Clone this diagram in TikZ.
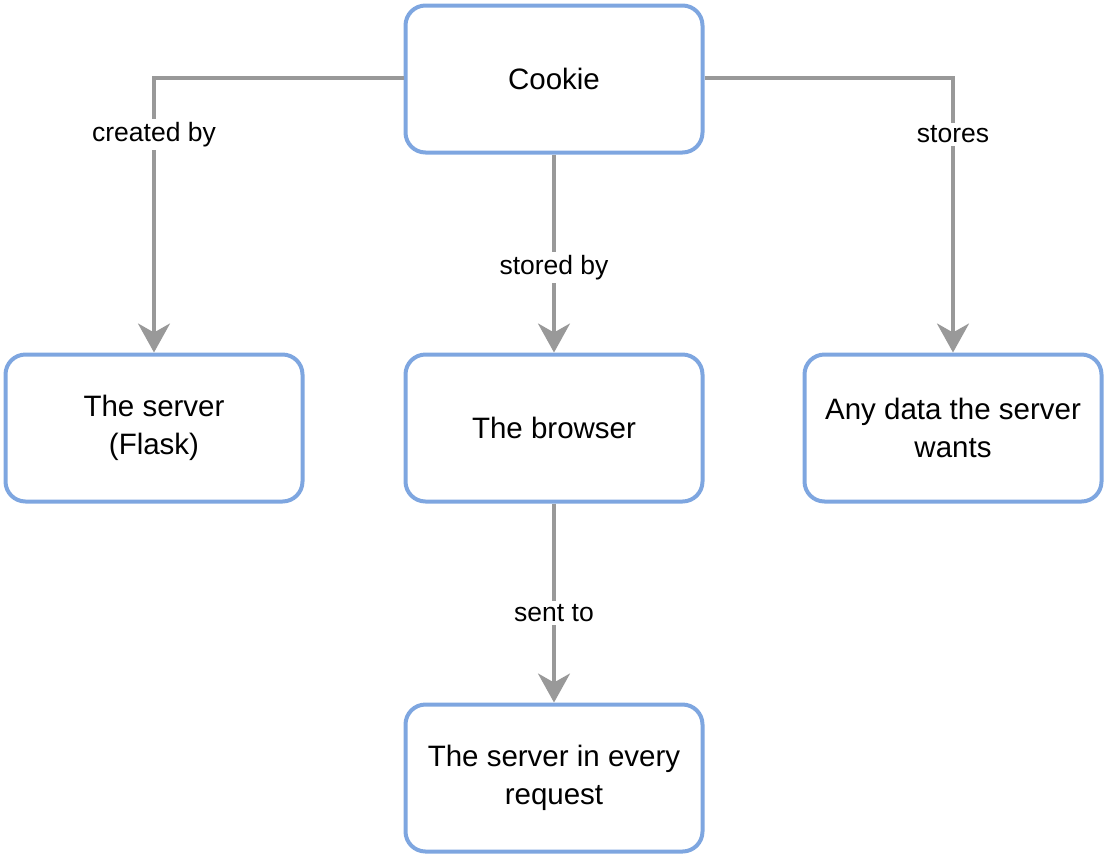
\documentclass[tikz,border=0pt]{standalone}
\usepackage{fontspec}
\setmainfont{Liberation Sans}
\usepackage{xcolor}
\usetikzlibrary{arrows.meta,positioning}
\definecolor{boxblue}{HTML}{7EA6E0}
\definecolor{arrgray}{HTML}{999999}

\begin{document}
\begin{tikzpicture}[x=1pt, y=-1pt,
        box/.style={draw=boxblue, line width=4pt, rounded corners=20pt,
            fill=white, minimum width=297pt, minimum height=147pt,
            align=center, font=\fontsize{29.5}{38}\selectfont},
        arr/.style={draw=arrgray, line width=3.5pt,
            -{Stealth[length=29pt, width=32pt, inset=9pt]}},
        lbl/.style={fill=white, inner sep=3pt, font=\fontsize{26.5}{32}\selectfont}]
                \useasboundingbox (0,0) rectangle (1105,855);

                % boxes
                \node[box] (cookie) at (554,79) {Cookie};
                \node[box] (server) at (154,428) {The server\\(Flask)};
                \node[box] (browser) at (554,428) {The browser};
                \node[box] (data) at (953,428) {Any data the server\\wants};
                \node[box] (request) at (554,778) {The server in every\\request};

                % connectors
                \draw[arr] (cookie.west |- 0,78) -| node[lbl, pos=0.603] {created by} (server.north);
                \draw[arr] (cookie.east |- 0,78) -| node[lbl, pos=0.603] {stores} (data.north);
                \draw[arr] (cookie.south) -- node[lbl, pos=0.57] {stored by} (browser.north);
                \draw[arr] (browser.south) -- node[lbl, pos=0.55] {sent to} (request.north);
            \end{tikzpicture}
\end{document}
